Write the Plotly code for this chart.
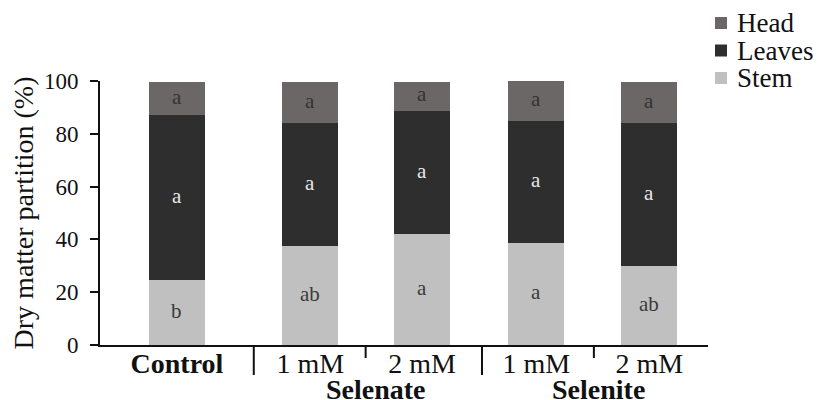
import plotly.graph_objects as go

# ---- data ----
treatments = ["Control", "1 mM", "2 mM", "1 mM", "2 mM"]
groups = ["Selenate", "Selenite"]
stem = [24.5, 37.4, 41.9, 38.8, 29.8]
leaves = [62.6, 46.6, 46.8, 46.1, 54.2]
head = [12.5, 15.6, 10.9, 15.1, 15.6]
stem_letters = ["b", "ab", "a", "a", "ab"]
leaves_letters = ["a", "a", "a", "a", "a"]
head_letters = ["a", "a", "a", "a", "a"]
y_ticks = [0, 20, 40, 60, 80, 100]

# ---- layout positions (axis units) ----
xpos = [0, 1.18, 2.17, 3.18, 4.18]
long_sep = [0.68, 2.70]
short_sep = [1.67, 3.69]
group_centers = [1.76, 3.73]

FONT = "Liberation Serif, Times New Roman, serif"
TXT = "#111111"
c_head = "#6b6766"
c_leaves = "#2f2e2e"
c_stem = "#c0c0c0"

series = [("Stem", stem, c_stem, stem_letters, "#3a3a3a"),
          ("Leaves", leaves, c_leaves, leaves_letters, "#e8e8e8"),
          ("Head", head, c_head, head_letters, "#333333")]

OFF = 8  # page body margin
W, H = 823 - OFF, 400 - OFF
L, T = 100 - OFF, 81 - OFF
PW, PH = 608, 264
R, B = W - L - PW, H - T - PH

fig = go.Figure()
base = [0.0] * len(xpos)
for name, vals, col, letters, tcol in series:
    fig.add_trace(go.Bar(name=name, x=xpos, y=vals, marker_color=col, width=0.495,
                         marker_line_width=0, showlegend=False))
    for xi, b, v, lt in zip(xpos, base, vals, letters):
        fig.add_annotation(x=xi, y=b + v / 2, xref="x", yref="y", text=lt, showarrow=False,
                           font=dict(size=21, family=FONT, color=tcol), yshift=2)
    base = [b + v for b, v in zip(base, vals)]

ticktext = ["<b>Control</b>"] + treatments[1:]

fig.update_layout(
    barmode="stack",
    width=W, height=H,
    margin=dict(l=L, r=R, t=T, b=B),
    paper_bgcolor="white", plot_bgcolor="white",
    font=dict(family=FONT, size=24, color=TXT),
    showlegend=False,
)
fig.update_xaxes(range=[-0.681, 4.70], tickmode="array", tickvals=xpos, ticktext=ticktext,
                 ticks="", showline=True, linecolor=TXT, linewidth=2, automargin=False,
                 ticklabelstandoff=-8,
                 showgrid=False, zeroline=False, tickfont=dict(size=28, family=FONT, color=TXT))
fig.update_yaxes(range=[0, 100], tickmode="array", tickvals=y_ticks, ticks="outside",
                 ticklen=8, tickwidth=2, tickcolor=TXT, ticklabelstandoff=7, automargin=False,
                 showline=True, linecolor=TXT, linewidth=2,
                 showgrid=False, zeroline=False, tickfont=dict(size=23, family=FONT, color=TXT),
                 title=dict(text="Dry matter partition (%)", font=dict(size=28, family=FONT, color=TXT),
                            standoff=12))

for s in long_sep:
    fig.add_shape(type="line", xref="x", yref="paper", x0=s, x1=s, y0=0, y1=-30 / PH,
                  line=dict(color=TXT, width=2))
for s in short_sep:
    fig.add_shape(type="line", xref="x", yref="paper", x0=s, x1=s, y0=0, y1=-13 / PH,
                  line=dict(color=TXT, width=2))
for g, xc in zip(groups, group_centers):
    fig.add_annotation(x=xc, xref="x", y=0, yref="paper", yshift=-44, yanchor="middle",
                       text=f"<b>{g}</b>", showarrow=False,
                       font=dict(size=28, family=FONT, color=TXT))

# ---- manual legend (Head, Leaves, Stem from top), page pixel coords ----
for i, (name, vals, col, letters, tcol) in enumerate(reversed(series)):
    yc = 23 + i * 27.5
    ybot = 345  # page y of axis baseline
    fig.add_shape(type="rect", xref="paper", yref="paper",
                  x0=(715 - 100) / PW, x1=(727 - 100) / PW,
                  y0=(ybot - yc - 6) / PH, y1=(ybot - yc + 6) / PH,
                  fillcolor=col, line=dict(width=0))
    fig.add_annotation(x=(735 - 100) / PW, xref="paper", y=(ybot - yc) / PH, yref="paper",
                       xanchor="left", yanchor="middle", text=name, showarrow=False,
                       font=dict(size=27, family=FONT, color=TXT))

fig.write_html("out.html")
